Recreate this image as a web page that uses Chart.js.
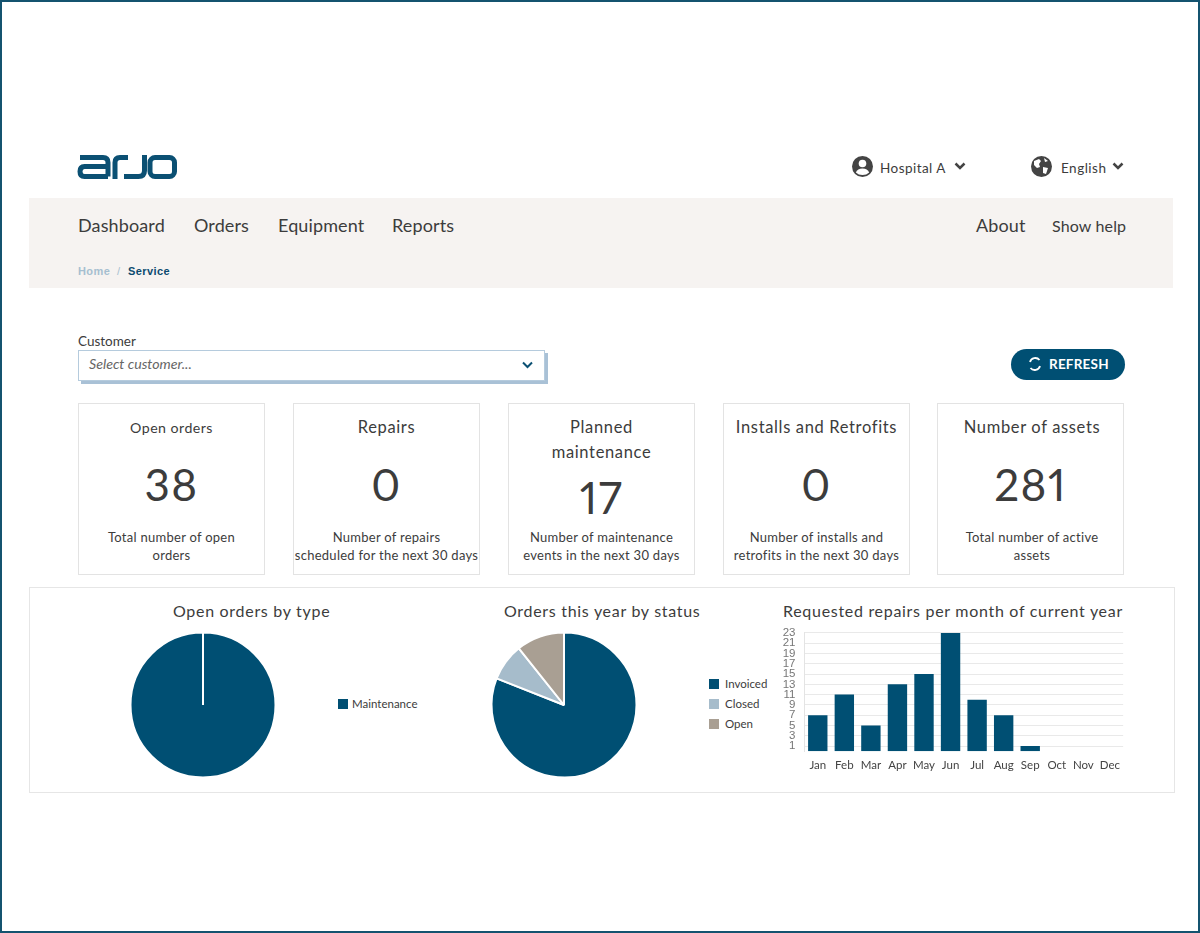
<!DOCTYPE html>
<html>
<head>
<meta charset="utf-8">
<script src="https://cdn.jsdelivr.net/npm/chart.js@4"></script>
<style>
html,body{margin:0;padding:0;background:#fff;}
#page{position:relative;width:1200px;height:933px;box-sizing:border-box;border:2px solid #14536f;overflow:hidden;font-family:Lato,sans-serif;color:#3c3c3c;}
/* everything inside is placed in page coords, so undo the 2px frame */
#inner{position:absolute;left:-2px;top:-2px;width:1200px;height:933px;}
.t{position:absolute;white-space:nowrap;line-height:1;}
.box{position:absolute;box-sizing:border-box;}
.card{position:absolute;top:403px;width:187px;height:172px;box-sizing:border-box;border:1px solid #e3e3e3;text-align:center;}
.card div{position:absolute;left:-10px;right:-10px;white-space:nowrap;}
.card .head{font-size:16.5px;letter-spacing:.65px;line-height:25px;}
.card:first-child .head{font-size:14.2px;letter-spacing:.45px;}
.card:last-child .head,.card:last-child .sub{left:-7px;}
.card .num{font-size:44px;letter-spacing:1.5px;line-height:45px;top:58px;font-variant-numeric:proportional-nums;font-feature-settings:"pnum";}
.card .sub{font-size:13px;letter-spacing:.27px;line-height:18px;}
.nav{font-size:18px;letter-spacing:.12px;top:216px;}
canvas{position:absolute;}
.lg{position:absolute;font-size:11.5px;line-height:12px;white-space:nowrap;}
.lg i{position:absolute;top:1px;width:10px;height:10px;}
.title{font-size:16px;letter-spacing:.7px;top:603px;}
</style>
</head>
<body>
<div id="page"><div id="inner">

<svg class="box" style="left:0;top:0" width="1200" height="300" fill="none" stroke="#0b5073" stroke-width="5">
  <path d="M80 157.5H103Q108 157.5 108 162.5V176.5M108 166.5H84.500Q80 166.500 80 171.500Q80 176.500 84.500 176.500H108"/>
  <path d="M115 179V162.500Q115 157.500 120 157.500H128"/>
  <path d="M144.500 155V170.500Q144.500 176.500 138.500 176.500H124"/>
  <rect x="150" y="157.500" width="24.500" height="19" rx="5"/>
</svg>

<svg class="box" style="left:851px;top:155px" width="23" height="23" viewBox="0 0 23 23">
  <circle cx="11.500" cy="11.500" r="10.500" fill="#444"/>
  <circle cx="11.500" cy="8.500" r="3.800" fill="#fff"/>
  <path d="M4.800 17.500Q6.500 13.500 11.500 13.500T18.200 17.500Q15.500 20 11.500 20T4.800 17.500Z" fill="#fff"/>
</svg>
<div class="t" style="left:880px;top:162px;font-size:13.5px;letter-spacing:.45px">Hospital A</div>
<svg class="box" style="left:954px;top:162px" width="12" height="9" fill="none" stroke="#444" stroke-width="2.500"><path d="M1.500 1.500L6 6L10.500 1.500"/></svg>
<svg class="box" style="left:1030px;top:155px" width="23" height="23" viewBox="0 0 23 23">
  <circle cx="11.500" cy="11.500" r="10.500" fill="#444"/>
  <path d="M4 6L9 4L11 6L9 9L10 12L7 13L4 10ZM13 12L18 13L16 19L13 18ZM14 3L18 6L15 7Z" fill="#fff"/>
</svg>
<div class="t" style="left:1061px;top:162px;font-size:13.5px;letter-spacing:.5px">English</div>
<svg class="box" style="left:1112px;top:162px" width="12" height="9" fill="none" stroke="#444" stroke-width="2.500"><path d="M1.500 1.500L6 6L10.500 1.500"/></svg>

<div class="box" style="left:29px;top:198px;width:1144px;height:90px;background:#f6f3f1"></div>
<div class="t nav" style="left:78px">Dashboard</div>
<div class="t nav" style="left:194px">Orders</div>
<div class="t nav" style="left:278px">Equipment</div>
<div class="t nav" style="left:392px">Reports</div>
<div class="t nav" style="left:976px">About</div>
<div class="t" style="left:1052px;top:218px;font-size:16px;letter-spacing:.15px">Show help</div>
<div class="t" style="left:78px;top:265px;font:bold 11px 'Liberation Sans',sans-serif;letter-spacing:.4px;color:#a6bfd0">Home</div>
<div class="t" style="left:117px;top:265px;font:11px 'Liberation Sans',sans-serif;color:#a6bfd0">/</div>
<div class="t" style="left:128px;top:265px;font:bold 11px 'Liberation Sans',sans-serif;letter-spacing:.4px;color:#0b4a6f">Service</div>

<div class="t" style="left:78px;top:335px;font-size:13.5px">Customer</div>
<div class="box" style="left:78px;top:350px;width:467px;height:31px;border:1px solid #b5cbdd;box-shadow:3px 3px 0 #a9c1d6;background:#fff"></div>
<div class="t" style="left:89px;top:357px;font-size:14.2px;font-style:italic;color:#666">Select customer...</div>
<svg class="box" style="left:522px;top:361px" width="11" height="8" fill="none" stroke="#0b5073" stroke-width="2"><path d="M1 1.500L5.500 6L10 1.500"/></svg>

<div class="box" style="left:1011px;top:349px;width:114px;height:31px;border-radius:16px;background:#004f73"></div>
<svg class="box" style="left:1028px;top:357px" width="14" height="14" fill="none" stroke="#fff" stroke-width="1.800"><path d="M2 5A5.500 5.500 0 0 1 11.500 3M12 9A5.500 5.500 0 0 1 2.500 11"/></svg>
<div class="t" style="left:1049px;top:358px;font-size:13.5px;font-weight:700;letter-spacing:.2px;color:#fff">REFRESH</div>

<div id="cards"></div>

<div class="box" style="left:29px;top:587px;width:1146px;height:206px;border:1px solid #e6e6e6"></div>
<div class="t title" style="left:173px">Open orders by type</div>
<div class="t title" style="left:504px">Orders this year by status</div>
<div class="t title" style="left:783px">Requested repairs per month of current year</div>

<canvas id="typePie" style="left:123px;top:625px;width:160px;height:160px" width="160" height="160"></canvas>
<canvas id="statusPie" style="left:484px;top:625px;width:160px;height:160px" width="160" height="160"></canvas>
<canvas id="repairsBar" style="left:775px;top:617px;width:352px;height:162px" width="352" height="162"></canvas>
<div id="typeLegend"></div>
<div id="statusLegend"></div>
</div></div>

<script>
const cardTitles = [['Open orders'], ['Repairs'], ['Planned', 'maintenance'], ['Installs and Retrofits'], ['Number of assets']];
const cardValues = ['38', '0', '17', '0', '281'];
const cardSubs = [
  ['Total number of open', 'orders'],
  ['Number of repairs', 'scheduled for the next 30 days'],
  ['Number of maintenance', 'events in the next 30 days'],
  ['Number of installs and', 'retrofits in the next 30 days'],
  ['Total number of active', 'assets']
];
const cardLefts = [78, 293, 508, 723, 937];

const typeLabels = ['Maintenance'];
const typeValues = [38];
const statusLabels = ['Invoiced', 'Closed', 'Open'];
const statusValues = [81, 8.3, 10.7];
const months = ['Jan','Feb','Mar','Apr','May','Jun','Jul','Aug','Sep','Oct','Nov','Dec'];
const repairs = [7, 11, 5, 13, 15, 23, 10, 7, 1, 0, 0, 0];
const yTicks = [1, 3, 5, 7, 9, 11, 13, 15, 17, 19, 21, 23];
const pieColors = ['#004f73', '#a6bccb', '#a99f93'];

// summary cards
const cardsEl = document.getElementById('cards');
cardTitles.forEach((title, i) => {
  const card = document.createElement('div');
  card.className = 'card';
  card.style.left = cardLefts[i] + 'px';
  const two = title.length > 1;
  let html = title.map((line, k) => `<div class="head" style="top:${11 + k * 25}px">${line}</div>`).join('');
  html += `<div class="num" style="${two ? 'top:71px' : ''}">${cardValues[i]}</div>`;
  html += cardSubs[i].map((line, k) => `<div class="sub" style="top:${124 + k * 18}px">${line}</div>`).join('');
  card.innerHTML = html;
  cardsEl.appendChild(card);
});

function makeLegend(id, labels, x, y, gap) {
  const el = document.getElementById(id);
  labels.forEach((label, i) => {
    const row = document.createElement('div');
    row.className = 'lg';
    row.style.left = x + 'px';
    row.style.top = (y + i * 20) + 'px';
    row.innerHTML = `<i style="background:${pieColors[i]};left:${-gap}px"></i>${label}`;
    el.appendChild(row);
  });
}
makeLegend('typeLegend', typeLabels, 352, 698, 14);
makeLegend('statusLegend', statusLabels, 725, 678, 16);

function makePie(id, labels, values) {
  new Chart(document.getElementById(id), {
    type: 'pie',
    data: { labels, datasets: [{ data: values, backgroundColor: pieColors, borderColor: '#fff', borderWidth: 2 }] },
    options: {
      responsive: false,
      animation: false,
      layout: { padding: 6.5 },
      plugins: { legend: { display: false }, tooltip: { enabled: false } }
    }
  });
}
makePie('typePie', typeLabels, typeValues);
makePie('statusPie', statusLabels, statusValues);

new Chart(document.getElementById('repairsBar'), {
  type: 'bar',
  data: { labels: months, datasets: [{ data: repairs, backgroundColor: '#004f73', borderWidth: 0, barPercentage: 0.73, categoryPercentage: 1 }] },
  options: {
    responsive: false,
    animation: false,
    layout: { padding: 0 },
    plugins: { legend: { display: false }, tooltip: { enabled: false } },
    scales: {
      x: {
        grid: { display: false, drawTicks: false },
        border: { display: false },
        ticks: { color: '#444', font: { family: 'Lato', size: 11.5 }, maxRotation: 0, autoSkip: false, padding: 7 }
      },
      y: {
        min: 0,
        max: 23,
        afterBuildTicks: axis => { axis.ticks = yTicks.map(value => ({ value })); },
        grid: { color: '#e9e9e9', drawTicks: false },
        border: { color: '#e4e4e4' },
        ticks: { color: '#777', font: { family: 'Liberation Sans', size: 11.5 }, autoSkip: false, padding: 9 },
        afterFit: axis => { axis.width = 29.5; }
      }
    }
  }
});
</script>
</body>
</html>
